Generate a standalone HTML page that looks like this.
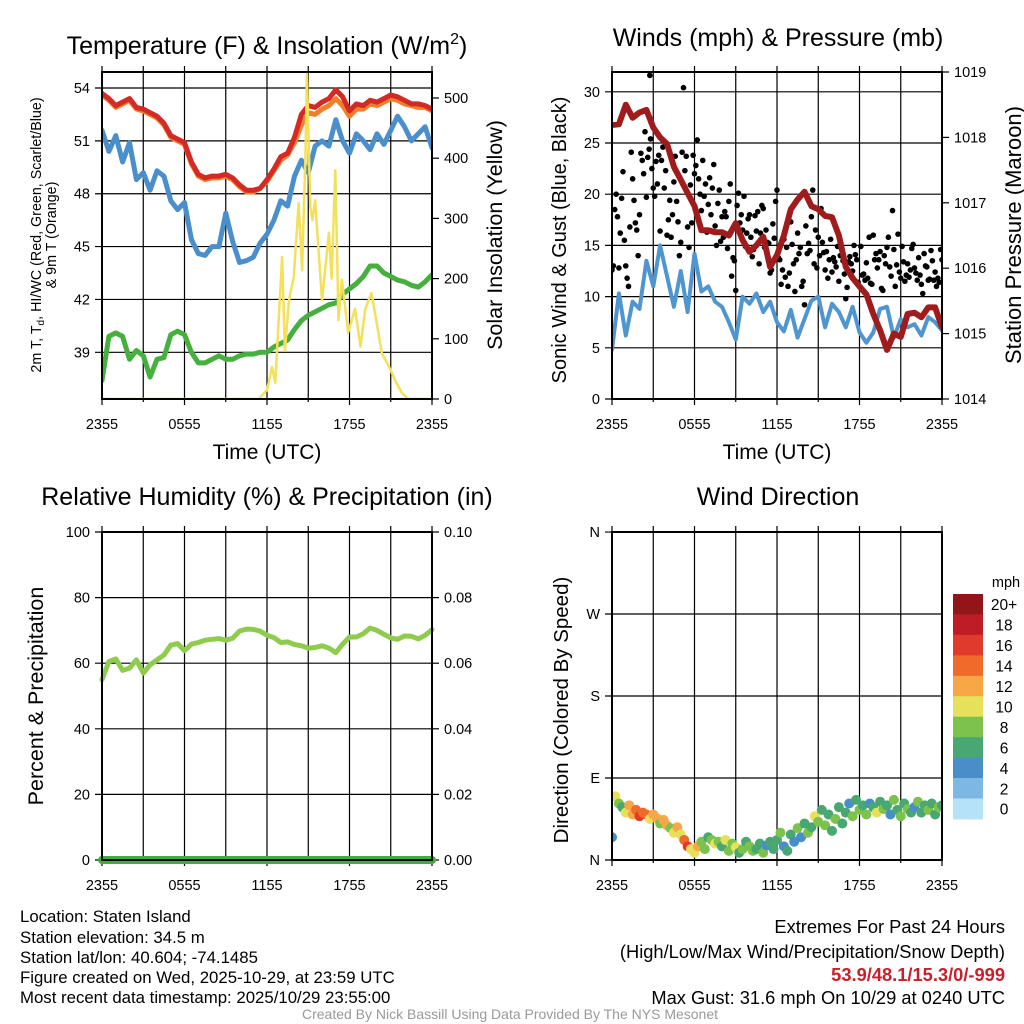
<!DOCTYPE html>
<html><head><meta charset="utf-8"><style>
html,body{margin:0;padding:0;background:#fff;}
svg{display:block;font-family:"Liberation Sans",Arial,sans-serif;}
</style></head><body>
<svg id="chart" width="1024" height="1024" viewBox="0 0 1024 1024" xmlns="http://www.w3.org/2000/svg">
<rect x="0" y="0" width="1024" height="1024" fill="#fff"/>
<text x="267" y="54" font-size="25" text-anchor="middle">Temperature (F) &amp; Insolation (W/m<tspan dy="-10" font-size="16">2</tspan><tspan dy="10">)</tspan></text>
<text x="778" y="46" font-size="25" text-anchor="middle">Winds (mph) &amp; Pressure (mb)</text>
<text x="267" y="505" font-size="25" text-anchor="middle">Relative Humidity (%) &amp; Precipitation (in)</text>
<text x="778" y="505" font-size="25" text-anchor="middle">Wind Direction</text>
<text transform="translate(41,235) rotate(-90)" font-size="14.3" text-anchor="middle">2m T, T<tspan font-size="10" dy="3">d</tspan><tspan dy="-3">, HI/WC (Red, Green, Scarlet/Blue)</tspan></text>
<text transform="translate(56,235) rotate(-90)" font-size="14.3" text-anchor="middle">&amp; 9m T (Orange)</text>
<text transform="translate(502,235) rotate(-90)" font-size="21.5" text-anchor="middle">Solar Insolation (Yellow)</text>
<text x="267" y="459" font-size="21" text-anchor="middle">Time (UTC)</text>
<text x="777" y="459" font-size="21" text-anchor="middle">Time (UTC)</text>
<text transform="translate(566,240) rotate(-90)" font-size="20" text-anchor="middle">Sonic Wind &amp; Gust (Blue, Black)</text>
<text transform="translate(1021,235) rotate(-90)" font-size="22" text-anchor="middle">Station Pressure (Maroon)</text>
<text transform="translate(43,696) rotate(-90)" font-size="21.5" text-anchor="middle">Percent &amp; Precipitation</text>
<text transform="translate(568,710) rotate(-90)" font-size="20.5" text-anchor="middle">Direction (Colored By Speed)</text>
<g font-size="16.8">
<text x="20" y="922">Location: Staten Island</text>
<text x="20" y="943">Station elevation: 34.5 m</text>
<text x="20" y="963">Station lat/lon: 40.604; -74.1485</text>
<text x="20" y="983">Figure created on Wed, 2025-10-29, at 23:59 UTC</text>
<text x="20" y="1003">Most recent data timestamp: 2025/10/29 23:55:00</text>
</g>
<g font-size="18.3" text-anchor="end">
<text x="1005" y="933">Extremes For Past 24 Hours</text>
<text x="1005" y="958">(High/Low/Max Wind/Precipitation/Snow Depth)</text>
<text x="1005" y="981" fill="#c8202a" font-weight="bold">53.9/48.1/15.3/0/-999</text>
<text x="1005" y="1004">Max Gust: 31.6 mph On 10/29 at 0240 UTC</text>
</g>
<text x="510" y="1019" font-size="14" fill="#999" text-anchor="middle">Created By Nick Bassill Using Data Provided By The NYS Mesonet</text>
<g id="layer"></g>
</svg>
<script>
// ---------- data ----------
const xTickLabels = ['2355','0555','1155','1755','2355'];
const tempRed = [53.7,53.4,53.0,53.2,53.4,52.9,52.8,52.6,52.4,52.0,51.3,51.1,50.9,49.8,49.1,48.9,49.0,49.0,49.1,48.9,48.5,48.2,48.2,48.3,48.8,49.4,50.1,50.3,51.2,52.5,53.0,52.9,53.2,53.4,53.9,53.5,52.7,53.1,53.0,53.3,53.2,53.4,53.6,53.5,53.3,53.1,53.1,53.0,52.8];
const temp9m = [53.6,53.3,52.9,53.1,53.3,52.8,52.7,52.5,52.3,51.9,51.2,51.0,50.8,49.7,49.0,48.8,48.9,48.9,49.0,48.8,48.4,48.1,48.1,48.3,48.7,49.3,49.9,50.2,50.9,51.9,52.6,52.5,52.8,53.0,53.4,53.0,52.4,52.8,52.8,53.1,53.0,53.2,53.4,53.3,53.1,53.0,52.9,52.9,52.7];
const tempBlue = [51.6,50.4,51.3,49.8,50.9,48.8,49.2,48.2,49.3,49.0,47.6,47.1,47.5,45.4,44.6,44.5,45.0,45.0,46.9,45.3,44.1,44.2,44.4,45.2,45.7,46.5,47.6,47.3,49.0,49.9,49.2,50.7,51.0,50.7,52.2,51.0,50.3,51.4,51.0,50.5,51.4,50.8,51.6,52.4,51.8,51.0,51.4,51.8,50.6];
const dewGreen = [37.4,39.9,40.1,39.9,38.6,39.1,38.8,37.6,38.6,38.7,40.0,40.2,40.0,39.0,38.4,38.4,38.6,38.8,38.6,38.6,38.8,38.9,38.9,39.0,39.0,39.3,39.5,39.7,40.3,40.8,41.1,41.3,41.5,41.7,41.8,42.3,42.6,42.9,43.3,43.9,43.9,43.5,43.3,43.1,43.0,42.8,42.7,43.0,43.4];
const solarHours = [0,11.4,12.0,12.36,12.6,13.1,13.3,13.6,13.95,14.3,14.55,14.8,14.9,15.15,15.3,15.5,16.0,16.5,16.7,16.97,17.2,17.45,17.9,18.4,18.8,19.15,19.6,20.1,20.35,20.85,21.3,21.8,22.3,24];
const solarVals = [0,0,15,53,27,236,80,164,203,325,214,408,541,319,297,330,164,276,200,380,131,198,110,150,87,150,176,110,76,55,32,10,0,0];
const windSpeed = [4.8,10.3,6.2,9.5,8.8,13.5,11.0,15.0,12.0,9.0,12.5,8.5,14.2,10.5,11.0,9.5,9.0,7.5,5.8,10.0,9.3,10.3,8.5,9.5,7.5,6.6,8.7,6.0,7.8,9.6,10.0,7.0,9.3,8.5,7.0,9.0,6.5,5.5,6.5,8.8,9.0,6.0,7.8,7.0,7.3,6.2,8.0,7.5,6.7];
const pressure = [1018.19,1018.2,1018.5,1018.3,1018.38,1018.42,1018.15,1018.0,1017.9,1017.55,1017.35,1017.15,1016.95,1016.58,1016.58,1016.55,1016.55,1016.5,1016.69,1016.43,1016.25,1016.35,1016.48,1016.02,1016.2,1016.5,1016.9,1017.05,1017.17,1016.95,1016.9,1016.8,1016.78,1016.5,1016.02,1015.85,1015.72,1015.6,1015.3,1015.05,1014.75,1015.0,1014.95,1015.3,1015.32,1015.25,1015.4,1015.4,1015.1];
const gusts = [12.6,18.5,17.8,16.2,22.2,13.0,11.0,24.1,19.4,16.5,18.0,23.3,26.1,23.6,25.4,20.6,23.2,23.8,23.3,20.6,16.0,19.4,18.0,23.7,17.3,15.3,30.4,23.7,14.8,17.2,22.0,25.3,20.0,23.3,21.0,19.0,18.0,22.9,15.0,20.4,17.8,18.3,14.7,21.0,13.8,10.6,20.1,18.0,19.8,16.2,18.0,13.9,17.9,18.3,16.2,18.6,16.5,15.2,12.6,15.7,20.4,13.6,12.6,11.9,11.0,17.3,13.2,13.6,14.2,11.0,9.2,14.2,14.5,20.4,16.5,15.8,18.6,14.3,14.4,13.6,12.4,13.4,14.9,14.0,13.5,9.8,13.4,13.2,15.0,13.6,11.0,12.1,11.6,11.8,11.3,16.0,14.2,13.6,10.8,14.0,14.8,12.9,18.4,11.0,16.1,11.8,13.4,12.1,11.9,14.7,12.8,11.6,12.1,10.3,13.0,11.6,14.5,11.6,11.0,11.4,13.6];
const gustsMid = [13.0,20.0,12.8,19.6,15.5,11.8,16.8,21.5,17.2,14.0,24.0,22.0,19.7,24.4,22.5,19.8,21.0,16.4,24.6,22.3,17.5,15.8,21.2,19.3,14.0,24.1,22.3,16.8,20.9,23.8,22.8,21.5,18.4,19.8,16.3,21.6,20.6,16.9,19.1,15.4,15.8,17.8,19.3,12.0,13.5,18.9,17.2,16.5,14.9,17.6,15.8,14.6,16.4,13.2,18.9,14.8,15.3,12.3,17.1,19.3,13.8,11.2,15.6,14.8,12.3,15.1,10.5,16.2,14.8,11.5,16.9,15.2,17.8,13.2,12.8,14.0,15.3,12.6,11.8,15.6,13.8,12.9,11.5,14.6,12.2,10.9,13.9,12.5,14.1,11.4,14.9,12.2,13.3,15.8,11.2,13.6,12.8,14.4,10.6,13.2,15.8,12.0,14.6,13.1,12.4,14.9,11.5,13.2,12.6,15.1,12.3,13.8,11.2,14.2,12.9,11.7,13.5,12.4,11.8,14.6];
const maxGust = [31.6];
const maxGustHour = [2.75];
const rh = [55.0,60.5,61.3,57.8,58.5,61.0,57.0,59.5,61.0,62.5,65.5,66.0,63.8,65.8,66.3,67.0,67.3,67.5,67.0,67.6,69.8,70.4,70.3,69.8,68.5,67.8,66.3,66.5,65.7,65.3,64.6,64.8,65.3,64.6,63.2,65.8,68.0,68.0,69.0,70.7,70.0,68.8,67.7,67.3,68.3,68.2,67.4,68.5,70.2];
const precip = [0,0,0,0,0,0,0,0,0,0,0,0,0,0,0,0,0,0,0,0,0,0,0,0,0,0,0,0,0,0,0,0,0,0,0,0,0,0,0,0,0,0,0,0,0,0,0,0,0];
const windDir = [25,70,62,58,52,60,50,55,48,52,50,45,50,46,40,44,38,35,30,36,28,22,15,12,8,15,20,12,25,22,18,20,15,22,10,18,14,8,12,20,15,10,12,18,8,16,20,12,22,30,15,10,28,20,35,25,40,30,36,48,42,55,38,50,32,45,58,40,52,62,48,66,55,60,50,62,58,52,64,56,60,50,66,55,48,62,56,52,58,64,52,60,55,62,50,58,60];
const dirSpeed = [4,10,9,7,11,13,12,15,16,15,14,10,13,12,8,12,13,9,10,12,11,14,16,10,10,12,9,8,7,9,10,8,6,10,8,9,10,7,8,6,8,9,6,7,8,5,7,6,6,8,4,7,6,5,8,4,7,9,6,10,8,6,9,7,6,8,7,6,7,5,8,6,9,6,8,4,7,10,6,8,6,5,8,7,9,6,8,7,5,8,6,7,8,6,7,8,7];
const speedBinLabels = ['0','2','4','6','8','10','12','14','16','18','20+'];
const speedBinColors = ['#b5e2f7','#7db8e3','#4a8ec7','#49a772','#7dc24d','#e6e05a','#f7a746','#ef6a2b','#df3a2b','#bf1d25','#921519'];

// ---------- layout ----------
const NS='http://www.w3.org/2000/svg';
const layer=document.getElementById('layer');
function mk(tag,attrs,parent){const e=document.createElementNS(NS,tag);for(const k in attrs)e.setAttribute(k,attrs[k]);(parent||layer).appendChild(e);return e;}
const P1={x0:102,x1:432,y0:72,y1:399};
const P2={x0:612,x1:942,y0:72,y1:399};
const P3={x0:102,x1:432,y0:532,y1:860};
const P4={x0:612,x1:942,y0:532,y1:860};
function xs(P,h){return P.x0+h/24*(P.x1-P.x0);}
const yTemp=v=>88+(54-v)*17.62;
const ySolar=v=>399-v*0.602;
const yWind=v=>399-v*10.24;
const yPres=v=>399-(v-1014)*65.4;
const yRH=v=>860-v*3.28;
const yPcp=v=>860-v*3280;
const yDir=v=>860-v*0.911;

function frame(P,name,hTicks,rTicks){
  const g=mk('g',{});
  
  
  for(let h=0;h<=24;h+=3){
    const x=xs(P,h);
    const gl=mk('line',{x1:x,x2:x,y1:P.y0-6,y2:P.y1+(h%6===0?6:3),stroke:'#000','stroke-width':1.2},g);
    
    
  }
  xTickLabels.forEach((lab,i)=>{
    const t=mk('text',{x:xs(P,i*6),y:P.y1+30,'font-size':14.5,'text-anchor':'middle'},g);
    t.textContent=lab;
    
    
  });
  hTicks.forEach(tk=>{
    const l=mk('line',{x1:P.x0-7,x2:P.x1,y1:tk.y,y2:tk.y,stroke:'#000','stroke-width':1.2},g);
    
    
    const t=mk('text',{x:P.x0-12,y:tk.y+5,'font-size':14.5,'text-anchor':'end'},g);
    t.textContent=tk.label;
    
    
  });
  rTicks.forEach(tk=>{
    const l=mk('line',{x1:P.x1,x2:P.x1+7,y1:tk.y,y2:tk.y,stroke:'#000','stroke-width':1.2},g);
    
    
    const t=mk('text',{x:P.x1+12,y:tk.y+5,'font-size':14.5,'text-anchor':'start'},g);
    t.textContent=tk.label;
    
    
  });
  return g;
}
function border(P,name){
  const r=mk('rect',{x:P.x0,y:P.y0,width:P.x1-P.x0,height:P.y1-P.y0,fill:'none',stroke:'#000','stroke-width':2});
  
  
}
function lineSeries(P,hours,vals,yf,color,w,name){
  const d=vals.map((v,i)=>(i?'L':'M')+xs(P,hours[i]).toFixed(1)+','+yf(v).toFixed(1)).join('');
  const p=mk('path',{d:d,fill:'none',stroke:color,'stroke-width':w,'stroke-linejoin':'round','stroke-linecap':'round'});
  
  
  return p;
}
const halfHours=tempRed.map((_,i)=>i*0.5);

const defs=mk('defs',{});
[P1,P2,P3,P4].forEach((P,i)=>{const c=mk('clipPath',{id:'clip'+i},defs);mk('rect',{x:P.x0,y:P.y0,width:P.x1-P.x0,height:P.y1-P.y0},c);});
function inG(el,g){g.appendChild(el);return el;}

// ---------- panel 1 ----------
frame(P1,'temp-panel-axes',[54,51,48,45,42,39].map(v=>({y:yTemp(v),label:String(v)})),[0,100,200,300,400,500].map(v=>({y:ySolar(v),label:String(v)})));
const g1=mk('g',{'clip-path':'url(#clip0)'});


inG(lineSeries(P1,halfHours,temp9m,yTemp,'#f07f2a',5,'temp-9m-line'),g1);
inG(lineSeries(P1,halfHours,tempRed,yTemp,'#d42a26',5,'temp-2m-line'),g1);
inG(lineSeries(P1,halfHours,tempBlue,yTemp,'#4a8fcb',5,'wind-chill-line'),g1);
inG(lineSeries(P1,halfHours,dewGreen,yTemp,'#45b03e',5,'dewpoint-line'),g1);
inG(lineSeries(P1,solarHours,solarVals,ySolar,'#f5e05a',2.5,'solar-line'),g1);
border(P1,'temp-plot-border');

// ---------- panel 2 ----------
frame(P2,'wind-panel-axes',[0,5,10,15,20,25,30].map(v=>({y:yWind(v),label:String(v)})),[1014,1015,1016,1017,1018,1019].map(v=>({y:yPres(v),label:String(v)})));
const g2=mk('g',{'clip-path':'url(#clip1)'});


inG(lineSeries(P2,halfHours,windSpeed,yWind,'#4f95d0',4,'wind-speed-line'),g2);
gusts.forEach((v,i)=>{
  const c=mk('circle',{cx:xs(P2,i*0.2),cy:yWind(v),r:2.8,fill:'#000'},g2);
  
  
});
gustsMid.forEach((v,i)=>{
  const c=mk('circle',{cx:xs(P2,0.1+i*0.2),cy:yWind(v),r:2.8,fill:'#000'},g2);
  
  
});
maxGust.forEach((v,i)=>{
  const c=mk('circle',{cx:xs(P2,maxGustHour[i]),cy:yWind(v),r:2.8,fill:'#000'},g2);
  
  
});
inG(lineSeries(P2,halfHours,pressure,yPres,'#a01c1c',6,'pressure-line'),g2);
border(P2,'wind-plot-border');

// ---------- panel 3 ----------
frame(P3,'rh-panel-axes',[0,20,40,60,80,100].map(v=>({y:yRH(v),label:String(v)})),[0,0.02,0.04,0.06,0.08,0.10].map(v=>({y:yPcp(v),label:v.toFixed(2)})));
const g3=mk('g',{});


inG(lineSeries(P3,halfHours,rh,yRH,'#8fcb4e',5,'rh-line'),g3);
inG(lineSeries(P3,halfHours,precip,yPcp,'#3fae3e',8,'precip-line'),g3);
border(P3,'rh-plot-border');

// ---------- panel 4 ----------
frame(P4,'dir-panel-axes',[['N',0],['E',90],['S',180],['W',270],['N',360]].map(a=>({y:yDir(a[1]),label:a[0]})),[]);
const g4=mk('g',{'clip-path':'url(#clip3)'});


windDir.forEach((d,i)=>{
  const bin=Math.min(10,Math.floor(dirSpeed[i]/2));
  const c=mk('circle',{cx:xs(P4,i*0.25),cy:yDir(d),r:5,fill:speedBinColors[bin]},g4);
  
  
});
border(P4,'dir-plot-border');

// colorbar
const cb=mk('g',{});


const cbTop=594, cbH=20.45;
speedBinLabels.forEach((lab,i)=>{
  const k=10-i;
  const r=mk('rect',{x:953,y:cbTop+(10-k)*cbH,width:30,height:cbH+0.5,fill:speedBinColors[k]},cb);
  
  
});
speedBinLabels.forEach((lab,k)=>{
  const t=mk('text',{x:1004,y:cbTop+(10-k)*cbH+cbH/2+6,'font-size':15.5,'text-anchor':'middle'},cb);
  t.textContent=lab;
  
  
});
const mt=mk('text',{x:1006,y:587,'font-size':14.5,'text-anchor':'middle'},cb);
mt.textContent='mph';


</script>
</body></html>
